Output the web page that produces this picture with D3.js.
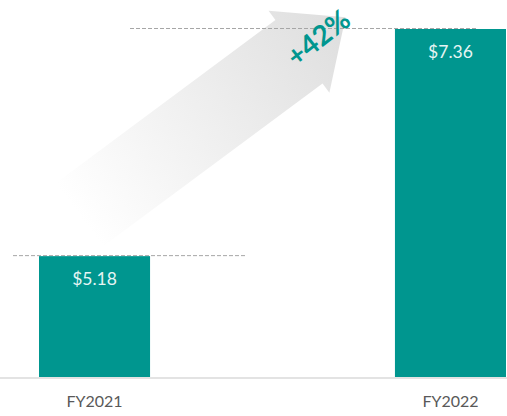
<!DOCTYPE html>
<html>
<head>
<meta charset="utf-8">
<script src="https://cdn.jsdelivr.net/npm/d3@7"></script>
<style>
    body { margin: 0; background: #fff; }
    svg { display: block; font-family: Lato, "Open Sans", sans-serif; }
</style>
</head>
<body>
<svg id="chart" width="507" height="416"></svg>
<script>
const years = ['FY2021', 'FY2022'];
const revenue = [5.18, 7.36];
const valueLabels = ['$5.18', '$7.36'];
const growthLabel = '+42%';

const width = 507, height = 416;
const baseY = 377;
const teal = '#00968f';

const svg = d3.select('#chart');

const x = d3.scaleBand()
    .domain(years)
    .range([39, 506])
    .paddingInner(0.688)
    .paddingOuter(0);

// axis doesn't start at zero in the original
const y = d3.scaleLinear()
    .domain([4.02, 7.36])
    .range([baseY, 29]);

// gradient arrow
const defs = svg.append('defs');
const grad = defs.append('linearGradient')
    .attr('id', 'arrowGrad')
    .attr('gradientUnits', 'userSpaceOnUse')
    .attr('x1', 0).attr('y1', 0)
    .attr('x2', 320).attr('y2', 0);
grad.append('stop').attr('offset', '0%').attr('stop-color', '#ffffff');
grad.append('stop').attr('offset', '100%').attr('stop-color', '#dfdfdf');

const tail = [x('FY2021') + 40, y(revenue[0]) - 41];
const bodyLen = 274, bodyW = 79, headW = 102, headLen = 58;
const angle = -36.6;

const arrowPts = [
    [0, -bodyW / 2], [bodyLen, -bodyW / 2], [bodyLen, -headW / 2],
    [bodyLen + headLen, 0],
    [bodyLen, headW / 2], [bodyLen, bodyW / 2], [0, bodyW / 2]
];

svg.append('g')
    .attr('transform', `translate(${tail[0]},${tail[1]}) rotate(${angle})`)
    .append('path')
    .attr('d', d3.line()(arrowPts) + 'Z')
    .attr('fill', 'url(#arrowGrad)');

// baseline
svg.append('line')
    .attr('x1', 0).attr('x2', width)
    .attr('y1', baseY + 1).attr('y2', baseY + 1)
    .attr('stroke', '#e3e3e3')
    .attr('stroke-width', 2);

// dashed guide lines
const guides = [
    {x1: x('FY2021') - 26, x2: x('FY2021') + x.bandwidth() + 95, v: revenue[0]},
    {x1: 130, x2: x('FY2022') + x.bandwidth() - 29, v: revenue[1]}
];
svg.selectAll('.guide')
    .data(guides)
    .join('line')
    .attr('class', 'guide')
    .attr('x1', d => d.x1).attr('x2', d => d.x2)
    .attr('y1', d => y(d.v) - 0.5).attr('y2', d => y(d.v) - 0.5)
    .attr('stroke', '#a6a6a6')
    .attr('stroke-width', 1)
    .attr('stroke-dasharray', '4,2');

// bars
svg.selectAll('.bar')
    .data(years)
    .join('rect')
    .attr('class', 'bar')
    .attr('x', d => x(d))
    .attr('width', x.bandwidth())
    .attr('y', (d, i) => y(revenue[i]))
    .attr('height', (d, i) => baseY - y(revenue[i]))
    .attr('fill', teal);

// value labels
svg.selectAll('.val')
    .data(years)
    .join('text')
    .attr('class', 'val')
    .attr('x', d => x(d) + x.bandwidth() / 2)
    .attr('y', (d, i) => y(revenue[i]) + 29)
    .attr('text-anchor', 'middle')
    .attr('font-size', 17.5)
    .attr('fill', '#e6f5f4')
    .text((d, i) => valueLabels[i]);

// category labels
svg.selectAll('.cat')
    .data(years)
    .join('text')
    .attr('class', 'cat')
    .attr('x', d => x(d) + x.bandwidth() / 2)
    .attr('y', 407)
    .attr('text-anchor', 'middle')
    .attr('font-size', 16)
    .attr('fill', '#595959')
    .text(d => d);

// growth label
svg.append('text')
    .attr('transform', `translate(320,40) rotate(-38)`)
    .attr('text-anchor', 'middle')
    .attr('dominant-baseline', 'middle')
    .attr('font-size', 28)
    .attr('font-weight', 'bold')
    .attr('fill', teal)
    .text(growthLabel);
</script>
</body>
</html>
